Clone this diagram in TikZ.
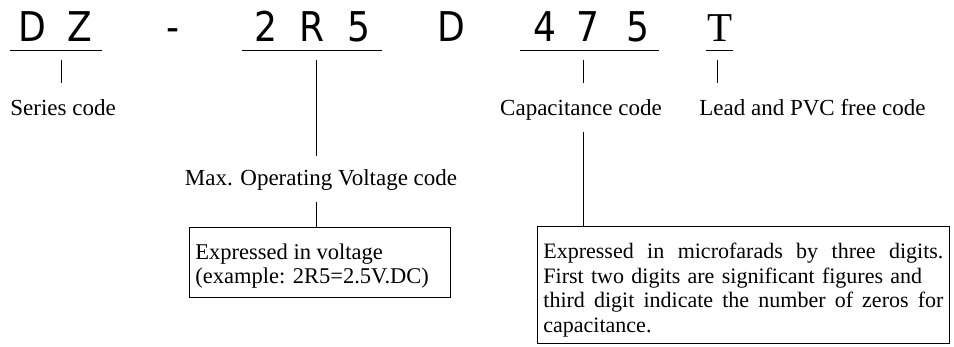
\documentclass[tikz,border=0pt]{standalone}
\usepackage{fontspec}
\setmainfont{Liberation Serif}
\newfontfamily\codefont[FakeStretch=0.88]{DejaVu Sans}
\usepackage{tikz}
\usetikzlibrary{positioning}

\begin{document}
\begin{tikzpicture}[x=1pt, y=-1pt, line width=0.8pt, line cap=butt,
    code/.style={font=\codefont\fontsize{41}{41}\selectfont, anchor=base, inner sep=0pt},
    lbl/.style={font=\fontsize{23}{26}\selectfont, anchor=base, inner sep=0pt},
    frame/.style={draw, anchor=north west, inner sep=0pt},
    boxtext/.style={anchor=north west, align=left, inner sep=0pt,
      font=\fontsize{22}{24.5}\selectfont}]

  \useasboundingbox (0,0) rectangle (954,347);

  % Part number
  \node[code] (cD)  at (32,42)  {D};
  \node[code] (cZ)  at (80,42)  {Z};
  \node[code] (dash) at (173,42) {-};
  \node[code] (v2)  at (266,42) {2};
  \node[code] (vR)  at (312,42) {R};
  \node[code] (v5)  at (359,42) {5};
  \node[code] (cD2) at (451,42) {D};
  \node[code] (c4)  at (545,42) {4};
  \node[code] (c7)  at (588,42) {7};
  \node[code] (c5)  at (638,42) {5};
  \node[code, font=\fontsize{41}{41}\selectfont] (cT) at (720,42) {T};

  % Underlines
  \coordinate (UA) at (10,50);
  \coordinate (UB) at (102,50);
  \coordinate (UC) at (242,50);
  \coordinate (UD) at (382,50);
  \coordinate (UE) at (520,50);
  \coordinate (UF) at (659,50);
  \coordinate (UG) at (706,50);
  \coordinate (UH) at (733,50);
  \draw (UA)--(UB);
  \draw (UC)--(UD);
  \draw (UE)--(UF);
  \draw (UG)--(UH);

  % Labels
  \node[lbl, anchor=base west] (series) at (10,116) {Series code};
  \node[lbl] (cap) at (581,116) {Capacitance code};
  \node[lbl, anchor=base west] (lead) at (699,116) {Lead and PVC free code};
  \node[lbl] (maxv) at (321,186) {Max. Operating Voltage code};

  % Boxes
  \node[frame, minimum width=261pt, minimum height=70pt] (vbox) at (189,227) {};
  \node[boxtext, font=\fontsize{22.5}{24.5}\selectfont] (vtext)
    at ([xshift=6pt, yshift=-16pt]vbox.north west)
    {Expressed in voltage\\(example: 2R5=2.5V.DC)};
  \node[frame, minimum width=412pt, minimum height=117pt] (cbox) at (537,226) {};
  \node[boxtext, text width=400pt] (ctext)
    at ([xshift=6pt, yshift=-17pt]cbox.north west)
    {\leavevmode\hbox to 400pt{Expressed\hfill in\hfill microfarads\hfill by\hfill three\hfill digits.}\\
     First two digits are significant figures and\\
     \leavevmode\hbox to 400pt{third\hfill digit\hfill indicate\hfill the\hfill number\hfill of\hfill zeros\hfill for}\\
     capacitance.};

  % Ticks
  \coordinate (T1) at (61,60);
  \coordinate (T1e) at (61,83);
  \coordinate (T2) at (316,60);
  \coordinate (T2e) at (316,156);
  \coordinate (T3) at (316,202);
  \coordinate (T4) at (583,60);
  \coordinate (T4e) at (583,83);
  \coordinate (T5) at (583,132);
  \coordinate (T6) at (717,60);
  \coordinate (T6e) at (717,83);
  \draw (T1)--(T1e);
  \draw (T2)--(T2e);
  \draw (T3)--(T3 |- vbox.north);
  \draw (T4)--(T4e);
  \draw (T5)--(T5 |- cbox.north);
  \draw (T6)--(T6e);

\end{tikzpicture}
\end{document}
